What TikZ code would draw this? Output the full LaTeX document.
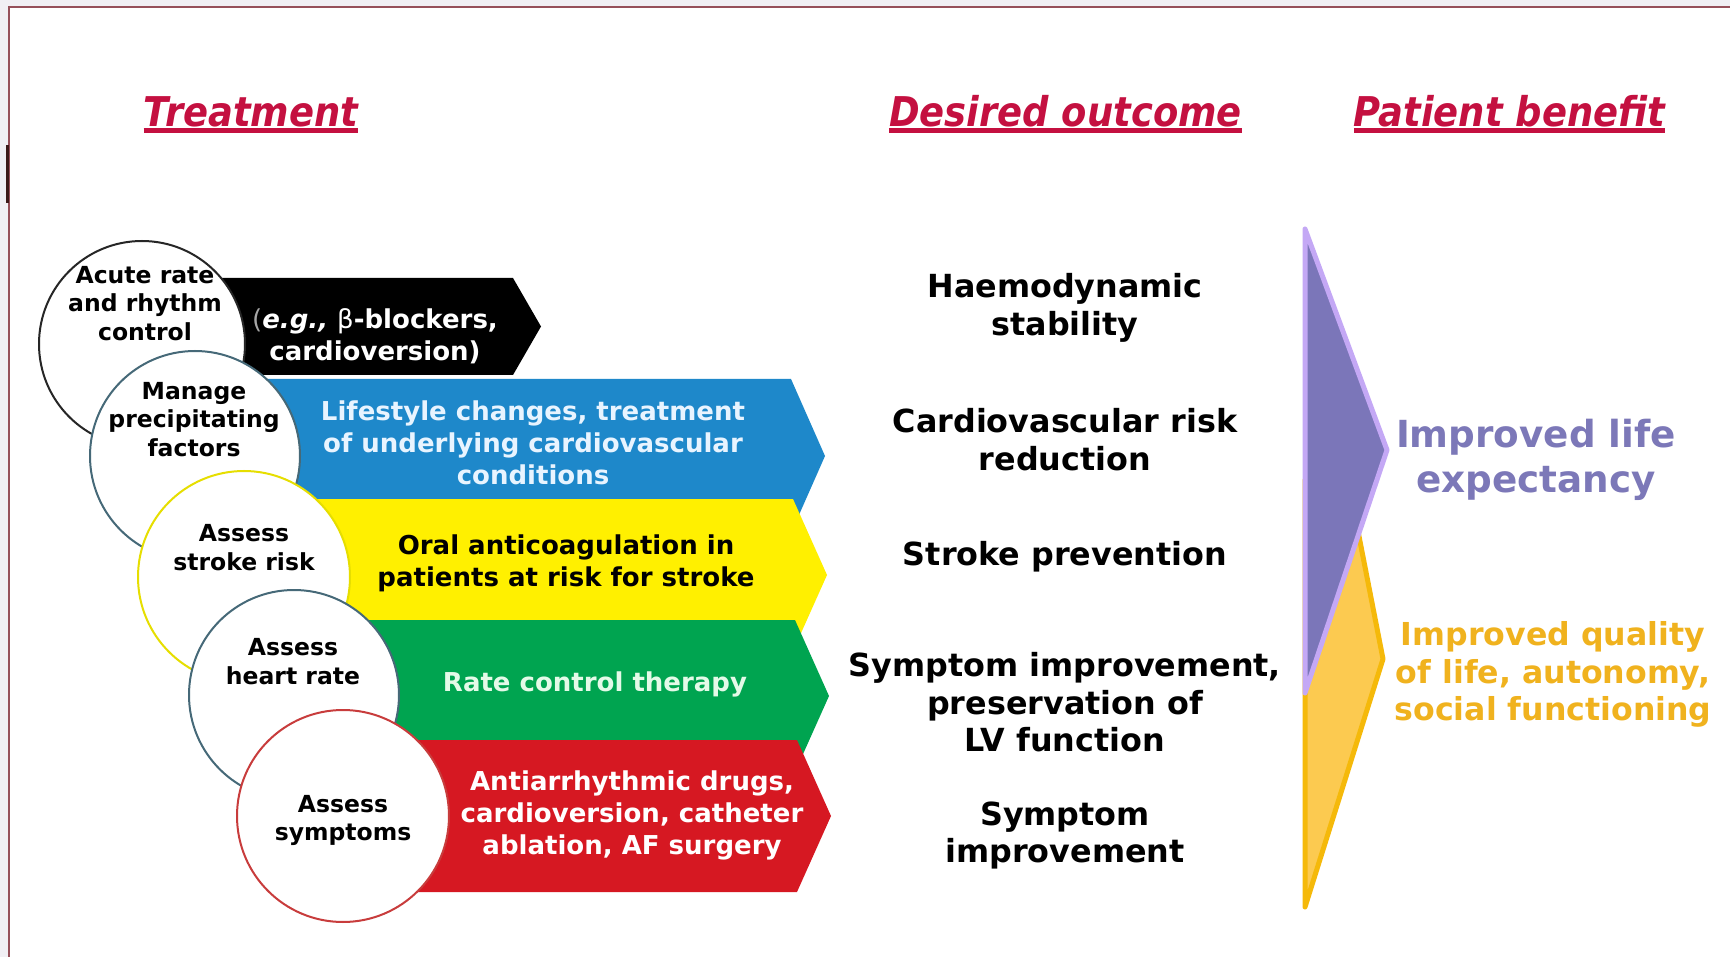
\documentclass[tikz,border=0pt]{standalone}
\usepackage{fontspec}
\setmainfont{DejaVu Sans}
\newfontfamily\headfont[FakeStretch=0.9]{DejaVu Sans}
\usetikzlibrary{calc}
\definecolor{pagegray}{RGB}{241,239,244}
\definecolor{framered}{RGB}{150,80,90}
\definecolor{darkbar}{RGB}{60,25,25}
\definecolor{headred}{RGB}{196,16,64}
\definecolor{arblue}{RGB}{30,136,202}
\definecolor{aryellow}{RGB}{255,240,0}
\definecolor{argreen}{RGB}{0,164,80}
\definecolor{arred}{RGB}{214,24,34}
\definecolor{bluetext}{RGB}{232,244,255}
\definecolor{greentext}{RGB}{228,250,232}
\definecolor{slateline}{RGB}{70,105,120}
\definecolor{yline}{RGB}{230,222,0}
\definecolor{rline}{RGB}{200,60,60}
\definecolor{purfill}{RGB}{123,118,185}
\definecolor{purline}{RGB}{196,168,245}
\definecolor{goldfill}{RGB}{252,202,80}
\definecolor{goldline}{RGB}{245,185,10}
\definecolor{purtext}{RGB}{124,120,184}
\definecolor{goldtext}{RGB}{240,178,30}
\tikzset{
  head/.style={font=\headfont\bfseries\itshape\fontsize{41}{41}\selectfont, text=headred, inner sep=0pt, anchor=base},
  headline/.style={headred, line width=5pt},
  arrowtxt/.style={font=\bfseries\fontsize{26}{32}\selectfont, align=center, inner sep=0pt},
  circ/.style={circle, fill=white, line width=2pt, inner sep=0pt},
  circtxt/.style={font=\bfseries\fontsize{23.5}{28.5}\selectfont, align=center, inner sep=0pt},
  outc/.style={font=\bfseries\fontsize{31.8}{37.5}\selectfont, align=center, inner sep=0pt},
  bigshape/.style={line width=5pt, line join=round}
}
\begin{document}
\begin{tikzpicture}[x=1pt,y=-1pt]
\useasboundingbox (0,0) rectangle (1730,957);
\fill[pagegray] (0,0) rectangle (1730,957);
\fill[white] (9,7) rectangle (1730,957);
\draw[framered, line width=1.5pt] (9,957) -- (9,7) -- (1730,7);
\fill[darkbar] (5.5,145) rectangle (8.5,203);

% headings
\node[head] (h1) at (251,127) {Treatment};
\node[head] (h2) at (1065.5,127) {Desired outcome};
\node[head] (h3) at (1509.5,127) {Patient benefit};
\draw[headline] ($(h1.base west)+(0,4)$) -- ($(h1.base east)+(0,4)$);
\draw[headline] ($(h2.base west)+(0,4)$) -- ($(h2.base east)+(0,4)$);
\draw[headline] ($(h3.base west)+(0,4)$) -- ($(h3.base east)+(0,4)$);

% arrows
\fill[black] (145,278) -- (513,278) -- (541,326.5) -- (513,375) -- (145,375) -- cycle;
\fill[arblue] (150,379) -- (791,379) -- (825,456) -- (791,533) -- (150,533) -- cycle;
\fill[aryellow] (200,499) -- (793,499) -- (827,575) -- (793,651) -- (200,651) -- cycle;
\fill[argreen] (250,620) -- (795,620) -- (829,696) -- (795,772) -- (250,772) -- cycle;
\fill[arred] (300,740) -- (797,740) -- (831,816) -- (797,892) -- (300,892) -- cycle;

\node[arrowtxt, text=white] (t1) at (375,336) {{\color{gray!70}\mdseries(}\textit{e.g.,} {\mdseries β}-blockers,\\cardioversion)};
\node[arrowtxt, text=bluetext] (t2) at (533,443) {Lifestyle changes, treatment\\of underlying cardiovascular\\conditions};
\node[arrowtxt, text=black] (t3) at (566,563) {Oral anticoagulation in\\patients at risk for stroke};
\node[arrowtxt, text=greentext] (t4) at (595,684) {Rate control therapy};
\node[arrowtxt, text=white] (t5) at (632,815) {Antiarrhythmic drugs,\\cardioversion, catheter\\ablation, AF surgery};

% circles
\node[circ, draw=black!85, minimum size=206pt] (c1) at (142,344) {};
\node[circtxt] (c1t) at (145,303.5) {Acute rate\\and rhythm\\control};
\node[circ, draw=slateline, minimum size=210pt] (c2) at (195,456) {};
\node[circtxt] (c2t) at (194,419.5) {Manage\\precipitating\\factors};
\node[circ, draw=yline, minimum size=212pt] (c3) at (244,577) {};
\node[circtxt] (c3t) at (244,547.5) {Assess\\stroke risk};
\node[circ, draw=slateline, minimum size=210pt] (c4) at (294,695) {};
\node[circtxt] (c4t) at (293,661.5) {Assess\\heart rate};
\node[circ, draw=rline, minimum size=212pt] (c5) at (343,816) {};
\node[circtxt] (c5t) at (343,820.5) {Assess\\symptoms};

% desired outcomes
\node[outc] (o1) at (1065,308) {Haemodynamic\\stability};
\node[outc] (o2) at (1065,439.5) {Cardiovascular risk\\reduction};
\node[outc] (o3) at (1065,556.5) {Stroke prevention};
\node[outc] (o4) at (1065,702.5) {Symptom improvement,\\preservation of\\LV function};
\node[outc] (o5) at (1065,835.5) {Symptom\\improvement};

% patient benefit shapes
\filldraw[bigshape, fill=goldfill, draw=goldline] (1305,480) -- (1348,480) -- (1383,659) -- (1305,907) -- cycle;
\filldraw[bigshape, fill=purfill, draw=purline] (1305,229) -- (1387,450) -- (1305,693) -- cycle;

\node[font=\bfseries\fontsize{37.3}{45}\selectfont, text=purtext, align=center, inner sep=0pt] (b1) at (1536,460) {Improved life\\expectancy};
\node[font=\bfseries\fontsize{31.6}{37.5}\selectfont, text=goldtext, align=center, inner sep=0pt] (b2) at (1553,674.5) {Improved quality\\of life, autonomy,\\social functioning};
\end{tikzpicture}
\end{document}
